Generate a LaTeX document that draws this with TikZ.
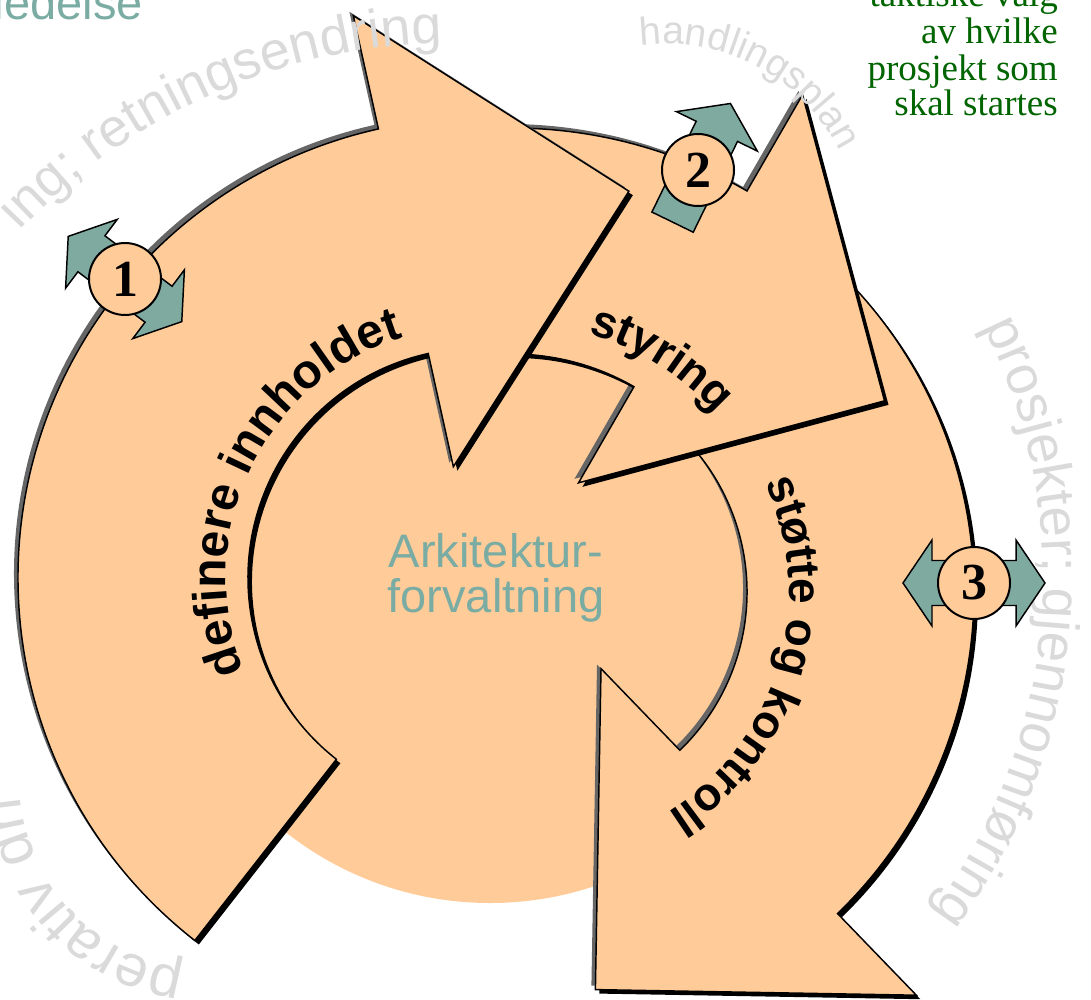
\documentclass[tikz,border=0pt]{standalone}
\usepackage{fontspec}
\setmainfont{Liberation Serif}
\setsansfont{Liberation Sans}
\usetikzlibrary{decorations.text}

\definecolor{peach}{HTML}{FFCC99}
\definecolor{badgeteal}{RGB}{127,170,160}
\definecolor{labelteal}{RGB}{122,172,164}
\definecolor{ghost}{RGB}{218,218,218}
\definecolor{leafgreen}{RGB}{0,100,0}
\definecolor{shade}{RGB}{102,102,102}

% circular band arrow: centre (#1,#2), inner/outer radius #3/#4,
% tail angle #5, head base angle #6, head overhang #7, tip edge length #8
\newcommand\cyclearrow[8]{(#1,#2) ++(#5:#4)
  arc[start angle=#5, end angle=#6, radius=#4] -- ++(#6:#7)
  -- ++(#6+135:#8) -- ++(#6+225:#8) -- ++(#6:#7)
  arc[start angle=#6, end angle=#5, radius=#3] -- cycle}

% text set along an arc: centre (#1,#2), middle angle #3, radius #4, format #5, text #6
\newcommand\arctext[6]{\path[decorate, decoration={text along path, text align=center, text={|#5|#6}}]
  (#1,#2) ++(#3-85:#4) arc[start angle=#3-85, end angle=#3+85, radius=#4];}

\newcommand\ghostA{\color{ghost}\sffamily\fontsize{40.5}{40.5}\selectfont}
\newcommand\ghostB{\color{ghost}\sffamily\fontsize{41}{41}\selectfont}
\newcommand\ghostC{\color{ghost}\sffamily\fontsize{29.25}{29.25}\selectfont}
\newcommand\ghostD{\color{ghost}\sffamily\fontsize{44}{44}\selectfont}
\newcommand\bandfont{\color{black}\sffamily\bfseries\fontsize{34.5}{34.5}\selectfont}
\newcommand\bandfontL{\color{black}\sffamily\bfseries\fontsize{36}{36}\selectfont}

\begin{document}
\begin{tikzpicture}[x=0.75pt, y=-0.75pt,
  arrowbody/.style={fill=peach, draw=black, line width=1.1pt, line join=miter},
  lightshadow/.style={fill=shade, shift={(-4,-4)}},
  darkshadow/.style={fill=black, shift={(4,4)}},
  badge/.style={circle, fill=peach, draw=black, line width=1.5pt, minimum size=54pt,
    inner sep=0pt, font=\bfseries\fontsize{39}{39}\selectfont},
  badgearrow/.style={fill=badgeteal, draw=black, line width=1.1pt, line join=miter},
  centerlabel/.style={text=labelteal, font=\sffamily\fontsize{35.25}{35.25}\selectfont,
    inner sep=0pt, anchor=base},
  leaf/.style={text=leafgreen, font=\fontsize{27.75}{27.75}\selectfont,
    inner sep=0pt, anchor=base east}]
\useasboundingbox (0,0) rectangle (1091,999);

% hub disc behind the three arrows
\fill[peach] (490,573) circle[radius=330];

% arrow: støtte og kontroll
\fill[lightshadow] \cyclearrow{527}{592}{220}{447}{-58}{46}{113.5}{321};
\fill[darkshadow] \cyclearrow{527}{592}{220}{447}{-58}{46}{113.5}{321};
\filldraw[arrowbody] \cyclearrow{527}{592}{220}{447}{-58}{46}{113.5}{321};

% arrow: styring
\fill[lightshadow] \cyclearrow{512}{598}{244}{470}{258}{300}{111}{316.8};
\fill[darkshadow] \cyclearrow{512}{598}{244}{470}{258}{300}{111}{316.8};
\filldraw[arrowbody] \cyclearrow{512}{598}{244}{470}{258}{300}{111}{316.8};

% arrow: definere innholdet
\fill[lightshadow] \cyclearrow{478}{578}{230}{460}{128}{257.5}{116}{326.7};
\fill[darkshadow] \cyclearrow{478}{578}{230}{460}{128}{257.5}{116}{326.7};
\filldraw[arrowbody] \cyclearrow{478}{578}{230}{460}{128}{257.5}{116}{326.7};

% labels inside the arrows
\arctext{478}{578}{205.5}{252}{\bandfontL}{definere innholdet}
\arctext{512}{598}{302}{275}{\bandfont}{styring}
\arctext{527}{592}{16.4}{262}{\bandfont}{støtte og kontroll}

% centre label
\node[centerlabel] (hub1) at (496,567) {Arkitektur-};
\node[centerlabel] (hub2) at (496,612) {forvaltning};

% faint texts around the cycle
\arctext{455}{640}{246}{597}{\ghostA}{ing; retningsendring}
\arctext{481}{578}{5}{562}{\ghostB}{prosjekter; gjennomføring}
\arctext{666}{238}{298}{194}{\ghostC}{handlingsplan}
\arctext{210.5}{780}{136.4}{191}{\ghostD}{perativ dri}

% corner texts
\node[text=labelteal, font=\sffamily\fontsize{35.25}{35.25}\selectfont,
  inner sep=0pt, anchor=base east] (lead) at (143,20) {ledelse};
\node[leaf] (t1) at (1058,7) {taktiske valg};
\node[leaf] (t2) at (1058,44) {av hvilke};
\node[leaf] (t3) at (1058,80) {prosjekt som};
\node[leaf] (t4) at (1058,115) {skal startes};

% numbered badges
\begin{scope}[shift={(125,279)}, rotate=-36.9]
  \filldraw[badgearrow] (71,0) -- (42,43) -- (42,22.5) -- (-42,22.5) -- (-42,43)
    -- (-71,0) -- (-42,-43) -- (-42,-22.5) -- (42,-22.5) -- (42,-43) -- cycle;
\end{scope}
\node[badge] (b1) at (125,279) {1};

\begin{scope}[shift={(698,170)}, rotate=64]
  \filldraw[badgearrow] (74,0) -- (43,45) -- (43,23) -- (-58,23) -- (-58,-23)
    -- (43,-23) -- (43,-45) -- cycle;
\end{scope}
\node[badge] (b2) at (698,170) {2};

\begin{scope}[shift={(974,583)}]
  \filldraw[badgearrow] (71,0) -- (42,43) -- (42,22.5) -- (-42,22.5) -- (-42,43)
    -- (-71,0) -- (-42,-43) -- (-42,-22.5) -- (42,-22.5) -- (42,-43) -- cycle;
\end{scope}
\node[badge] (b3) at (974,583) {3};

\end{tikzpicture}
\end{document}
